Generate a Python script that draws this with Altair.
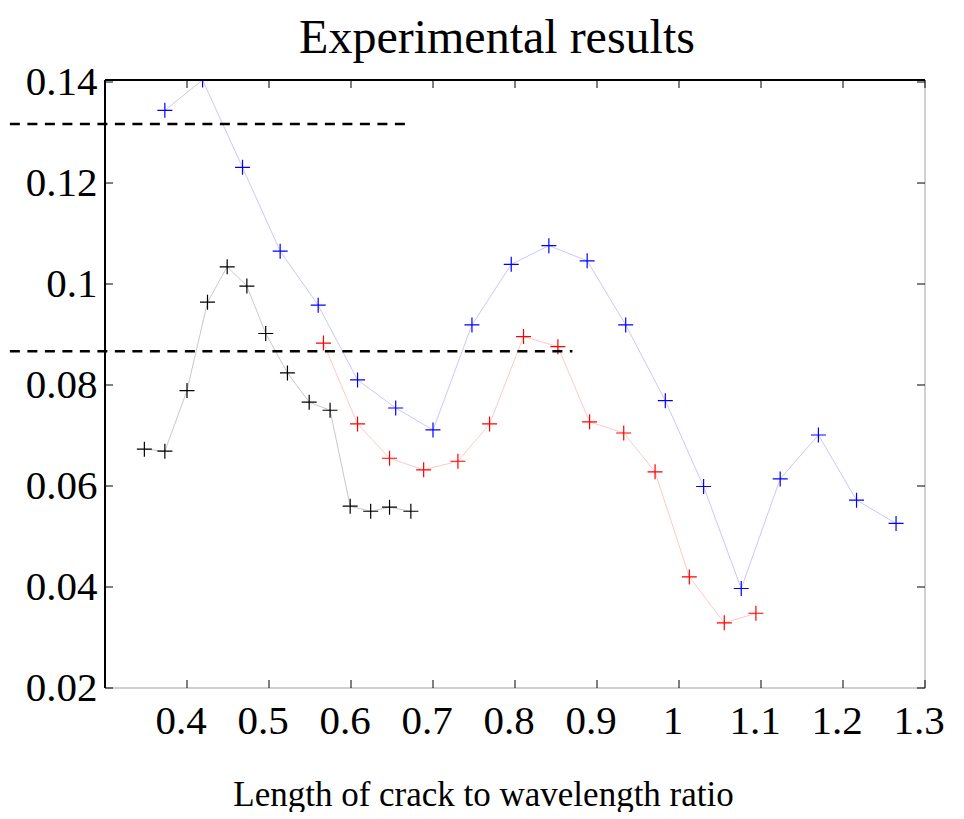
import altair as alt
import pandas as pd

# ---- data ----
black_x = [0.348, 0.373, 0.400, 0.425, 0.449, 0.473, 0.496, 0.5225, 0.549, 0.5745, 0.599, 0.624, 0.647, 0.673]
black_y = [0.0673, 0.0669, 0.0789, 0.0964, 0.1034, 0.0996, 0.0902, 0.0824, 0.0766, 0.0750, 0.0560, 0.0550, 0.0558, 0.0550]

blue_x = [0.373, 0.419, 0.4677, 0.5136, 0.560, 0.608, 0.6545, 0.700, 0.7475, 0.7954, 0.8413, 0.888,
          0.935, 0.9833, 1.030, 1.0759, 1.1234, 1.170, 1.2165, 1.2647]
blue_y = [0.1344, 0.1404, 0.1231, 0.1065, 0.0958, 0.0810, 0.07545, 0.0711, 0.0919, 0.1039, 0.1076, 0.1046,
          0.0919, 0.0769, 0.0599, 0.0397, 0.0614, 0.0701, 0.0572, 0.0526]

red_x = [0.5664, 0.608, 0.647, 0.6886, 0.7304, 0.769, 0.8104, 0.8523, 0.891, 0.9326, 0.9708, 1.0126, 1.0552, 1.0938]
red_y = [0.0883, 0.0723, 0.0655, 0.0632, 0.0649, 0.0723, 0.0896, 0.0876, 0.0727, 0.0705, 0.0628, 0.0420, 0.0329, 0.0348]

dash_y = [0.1317, 0.0867]
dash_x_start = [0.184, 0.184]
dash_x_end = [0.669, 0.870]

x_ticks = [0.4, 0.5, 0.6, 0.7, 0.8, 0.9, 1.0, 1.1, 1.2, 1.3]
y_ticks = [0.02, 0.04, 0.06, 0.08, 0.1, 0.12, 0.14]

series_names = ["black", "blue", "red"]
series_colors = ["#000000", "#0000ff", "#ff0000"]

# ---- tables ----
rows = []
for name, xs, ys in [("black", black_x, black_y), ("blue", blue_x, blue_y), ("red", red_x, red_y)]:
    for xv, yv in zip(xs, ys):
        rows.append({"series": name, "x": xv, "y": yv})
df = pd.DataFrame(rows)
dash_df = pd.DataFrame({"y": dash_y, "x": dash_x_start, "x2": dash_x_end})
xt_df = pd.DataFrame({"x": x_ticks})
yt_df = pd.DataFrame({"y": y_ticks})

W, H = 820, 608
FONT = "Liberation Serif"

xscale = alt.Scale(domain=[0.3, 1.3], nice=False, zero=False)
yscale = alt.Scale(domain=[0.02, 0.1404], nice=False, zero=False)
xaxis = alt.Axis(values=x_ticks, format="~g", ticks=False, tickSize=0, domain=False, grid=False,
                 labelFont=FONT, labelFontSize=41, labelColor="black", labelPadding=13,
                 labelOffset=-6.5, labelFlush=False, labelOverlap=False,
                 title="Length of crack to wavelength ratio", titleFont=FONT, titleFontSize=35,
                 titleFontWeight="normal", titleColor="black", titlePadding=36,
                 titleX=378, titleAlign="center")
yaxis = alt.Axis(values=y_ticks, format="~g", ticks=False, tickSize=0, domain=False, grid=False,
                 labelFont=FONT, labelFontSize=41, labelColor="black", labelPadding=8,
                 labelFlush=False, labelOverlap=False, title=None)

X = alt.X("x:Q", scale=xscale, axis=xaxis)
Y = alt.Y("y:Q", scale=yscale, axis=yaxis)
color = alt.Color("series:N", scale=alt.Scale(domain=series_names, range=series_colors), legend=None)

lines = alt.Chart(df).mark_line(strokeWidth=1, opacity=0.22, clip=True).encode(
    x=X, y=Y, color=color, detail="series:N", order="x:Q")

plus = "M-1,0L1,0M0,-1L0,1"
points = alt.Chart(df).mark_point(shape=plus, size=225, filled=False, strokeWidth=1.2,
                                  opacity=1, clip=True).encode(x=X, y=Y, color=color)

dashes = alt.Chart(dash_df).mark_rule(strokeDash=[10, 7.5], strokeWidth=2.6, color="black",
                                      clip=False).encode(x=X, x2="x2:Q", y=Y)

tick_style = dict(color="black", strokeWidth=1)
top_ticks = alt.Chart(xt_df).mark_rule(**tick_style).encode(x=X, y=alt.value(0), y2=alt.value(8))
bot_ticks = alt.Chart(xt_df).mark_rule(**tick_style).encode(x=X, y=alt.value(H), y2=alt.value(H - 8))
left_ticks = alt.Chart(yt_df).mark_rule(**tick_style).encode(y=Y, x=alt.value(0), x2=alt.value(8))
right_ticks = alt.Chart(yt_df).mark_rule(**tick_style).encode(y=Y, x=alt.value(W), x2=alt.value(W - 8))

frame_top = alt.Chart(xt_df).mark_rule(color="black", strokeWidth=1.2).encode(
    x=alt.value(0), x2=alt.value(W), y=alt.value(0))
frame_left = alt.Chart(xt_df).mark_rule(color="black", strokeWidth=1.2).encode(
    x=alt.value(0), y=alt.value(0), y2=alt.value(H))
frame_right = alt.Chart(xt_df).mark_rule(color="#d0d0d0", strokeWidth=1.2).encode(
    x=alt.value(W), y=alt.value(0), y2=alt.value(H))
frame_bottom = alt.Chart(xt_df).mark_rule(color="#d0d0d0", strokeWidth=1.2).encode(
    x=alt.value(0), x2=alt.value(W), y=alt.value(H))

chart = alt.layer(
    frame_right, frame_bottom, lines, points, dashes,
    top_ticks, bot_ticks, left_ticks, right_ticks, frame_top, frame_left
).properties(
    width=W, height=H,
    title=alt.TitleParams("Experimental results", font=FONT, fontSize=48, fontWeight="normal",
                          color="black", anchor="middle", dx=-18, offset=-2),
    padding={"left": 0, "top": 7, "right": 5, "bottom": 0},
).configure_view(stroke=None).configure(background="white")

chart.save("out.html", embed_options={"renderer": "svg", "actions": False})
